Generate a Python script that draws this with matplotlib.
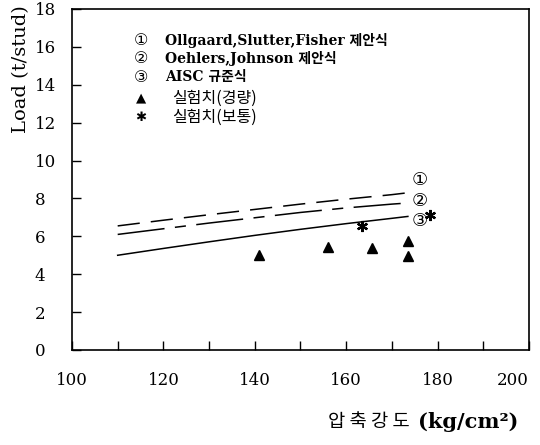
import matplotlib
matplotlib.use("Agg")
import matplotlib.pyplot as plt

plt.rcParams['lines.scale_dashes'] = False

# ---- data ----
fc = [110, 120, 130, 140, 150, 160, 170, 173.5]
q_ollgaard = [6.55, 6.85, 7.14, 7.42, 7.70, 7.96, 8.20, 8.30]
q_oehlers = [6.10, 6.40, 6.70, 6.98, 7.26, 7.50, 7.70, 7.76]
q_aisc = [5.00, 5.36, 5.71, 6.05, 6.37, 6.67, 6.95, 7.05]

light_x = [141.0, 156.0, 165.6, 173.6, 173.6]
light_y = [5.00, 5.46, 5.41, 5.77, 4.94]
normal_x = [163.4, 178.3]
normal_y = [6.54, 7.15]

curve_tags = ['①', '②', '③']
tag_x = [176.1, 176.1, 176.1]
tag_y = [8.95, 7.85, 6.8]

xticks = list(range(100, 201, 10))
xlabels = [str(v) if v % 20 == 0 else '' for v in xticks]
yticks = list(range(0, 19, 2))

legend_rows = [
    ('①', 'Ollgaard,Slutter,Fisher 제안식'),
    ('②', 'Oehlers,Johnson 제안식'),
    ('③', 'AISC 규준식'),
    ('▲', '실험치(경량)'),
    ('✱', '실험치(보통)'),
]

SERIF = ['DejaVu Serif', 'Noto Sans CJK KR']
KR = ['Noto Sans CJK KR', 'DejaVu Sans']

fig = plt.figure(figsize=(5.4, 4.45), dpi=100)
ax = fig.add_axes([0.1333, 0.2135, 0.8463, 0.7663])

lw = 1.1
ax.plot(fc, q_ollgaard, color='black', lw=lw, dashes=(16, 8))
ax.plot(fc, q_oehlers, color='black', lw=lw, dashes=(34, 7.5, 8, 7.5))
ax.plot(fc, q_aisc, color='black', lw=lw)

ax.plot(light_x, light_y, linestyle='none', marker='^', ms=7.5, color='black')
ax.plot(normal_x, normal_y, linestyle='none', marker=(6, 2, 0), ms=8,
        mew=1.6, color='black')

for t, x, y in zip(curve_tags, tag_x, tag_y):
    ax.text(x, y, t, ha='center', va='center', fontsize=13,
            family=['DejaVu Sans', 'Noto Sans CJK KR'])

ax.set_xlim(100, 200)
ax.set_ylim(0, 18)
ax.set_xticks(xticks)
ax.set_xticklabels(xlabels, family=SERIF, fontsize=12)
ax.set_yticks(yticks)
ax.set_yticklabels([str(v) for v in yticks], family=SERIF, fontsize=12)
for lbl in ax.get_yticklabels():
    lbl.set_horizontalalignment('left')
ax.get_xticklabels()[-1].set_horizontalalignment('right')

ax.tick_params(axis='both', direction='in', length=6.5, width=1.0)
ax.tick_params(axis='y', pad=27)
ax.tick_params(axis='x', pad=16)
for s in ax.spines.values():
    s.set_linewidth(1.2)

# legend block
row_y = [0.909, 0.856, 0.800, 0.739, 0.683]
for (sym, txt), y in zip(legend_rows, row_y):
    if sym in ('▲', '✱'):
        ax.text(0.151, y, sym, transform=ax.transAxes, ha='center', va='center',
                fontsize=9.5, family=['DejaVu Sans'])
        ax.text(0.218, y, txt, transform=ax.transAxes, ha='left', va='center',
                fontsize=11.5, family=KR)
    else:
        ax.text(0.151, y, sym, transform=ax.transAxes, ha='center', va='center',
                fontsize=11.5, family=['DejaVu Sans', 'Noto Sans CJK KR'])
        ax.text(0.2035, y, txt, transform=ax.transAxes, ha='left', va='center',
                fontsize=10, fontweight='bold', fontstretch='normal',
                family=SERIF)

fig.text(21.5 / 540, 1 - 5 / 445, 'Load (t/stud)', rotation=90, ha='center',
         va='top', fontsize=14, family=SERIF)
fig.text(410 / 540, 1 - 422 / 445, '압 축 강 도', ha='right', va='center',
         fontsize=13.5, family=KR)
fig.text(418 / 540, 1 - 422 / 445, '(kg/cm²)', ha='left', va='center',
         fontsize=15, fontweight='bold', fontstretch='normal', family=SERIF)

fig.savefig('out.png', dpi=100)
